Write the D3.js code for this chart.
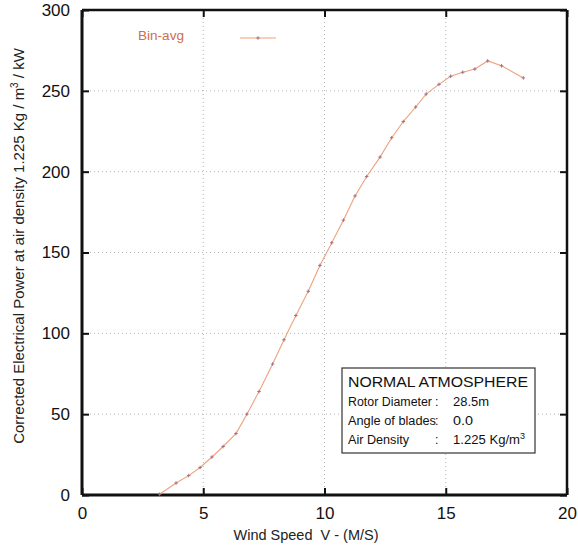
<!DOCTYPE html>
<html><head><meta charset="utf-8">
<script src="https://cdn.jsdelivr.net/npm/d3@7"></script>
<style>body{margin:0;background:#fff;}svg{display:block;font-family:"Liberation Sans",Arial,sans-serif;}</style>
</head><body><svg id="c" width="578" height="546"></svg>
<script>
const windSpeed = [3.2, 3.88, 4.4, 4.87, 5.36, 5.82, 6.35, 6.8, 7.3, 7.86, 8.33, 8.82, 9.33, 9.81, 10.3, 10.78, 11.26, 11.74, 12.29, 12.77, 13.25, 13.76, 14.19, 14.72, 15.2, 15.7, 16.2, 16.73, 17.3, 18.2];
const power = [0.5, 7.4, 12, 17, 23.5, 30, 38, 50, 64, 81, 96, 111, 126, 142, 156, 170, 185, 197, 209, 221, 231, 240, 248, 254, 259, 261.5, 263.5, 268.5, 265.5, 258];
const xTicks = [0, 5, 10, 15, 20];
const yTicks = [0, 50, 100, 150, 200, 250, 300];
const legendLabel = "Bin-avg";
const boxTitle = "NORMAL ATMOSPHERE";
const boxRows = [["Rotor Diameter", "28.5m", ""], ["Angle of blades", "0.0", ""], ["Air Density", "1.225 Kg/m", "3"]];

const svg = d3.select("#c");
const L = 82, R = 567, T = 10, B = 495;
const x = d3.scaleLinear().domain([0, 20]).range([L, R]);
const y = d3.scaleLinear().domain([0, 300]).range([B, T]);
const data = windSpeed.map((v, i) => ({v, p: power[i]}));

// grid
const g = svg.append("g");
g.selectAll("line.vg").data(xTicks.slice(1, -1)).join("line")
  .attr("x1", d => x(d)).attr("x2", d => x(d)).attr("y1", T).attr("y2", B)
  .attr("stroke", "#b5b5b5").attr("stroke-width", 1).attr("stroke-dasharray", "1,3");
g.selectAll("line.hg").data(yTicks.slice(1, -1)).join("line")
  .attr("y1", d => y(d)).attr("y2", d => y(d)).attr("x1", L).attr("x2", R)
  .attr("stroke", "#b5b5b5").attr("stroke-width", 1).attr("stroke-dasharray", "1,3");

// axes
const fmt = d3.format("d");
const axB = svg.append("g").attr("transform", `translate(0,${B})`)
  .call(d3.axisBottom(x).tickValues(xTicks).tickFormat(fmt).tickSizeInner(-7).tickSizeOuter(0).tickPadding(12));
const axL = svg.append("g").attr("transform", `translate(${L},0)`)
  .call(d3.axisLeft(y).tickValues(yTicks).tickFormat(fmt).tickSizeInner(-7).tickSizeOuter(0).tickPadding(12));
const axT = svg.append("g").attr("transform", `translate(0,${T})`)
  .call(d3.axisTop(x).tickValues(xTicks).tickFormat("").tickSizeInner(-7).tickSizeOuter(0));
const axR = svg.append("g").attr("transform", `translate(${R},0)`)
  .call(d3.axisRight(y).tickValues(yTicks).tickFormat("").tickSizeInner(-7).tickSizeOuter(0));
[axB, axL, axT, axR].forEach(a => {
  a.select(".domain").remove();
  a.selectAll(".tick line").attr("stroke", "#111").attr("stroke-width", 2);
  a.selectAll(".tick text").attr("fill", "#111").attr("font-size", 17).attr("font-family", "Liberation Sans, Arial, sans-serif");
});
axB.selectAll(".tick text").attr("dy", "0.71em");

// frame
svg.append("line").attr("x1", L).attr("x2", R).attr("y1", T).attr("y2", T).attr("stroke", "#111").attr("stroke-width", 2.5);
svg.append("line").attr("x1", R).attr("x2", R).attr("y1", T).attr("y2", B).attr("stroke", "#111").attr("stroke-width", 2.5);
svg.append("line").attr("x1", L).attr("x2", R).attr("y1", B).attr("y2", B).attr("stroke", "#111").attr("stroke-width", 3);
svg.append("line").attr("x1", L).attr("x2", L).attr("y1", T).attr("y2", B).attr("stroke", "#111").attr("stroke-width", 3);

// series
const lineCol = "#eea27c", markCol = "#a06a80";
svg.append("path").datum(data)
  .attr("d", d3.line().x(d => x(d.v)).y(d => y(d.p)))
  .attr("fill", "none").attr("stroke", lineCol).attr("stroke-width", 1.1);
const mk = svg.append("g").selectAll("g").data(data).join("g")
  .attr("transform", d => `translate(${x(d.v)},${y(d.p)})`);
mk.append("line").attr("x1", -1.8).attr("x2", 1.8).attr("stroke", markCol).attr("stroke-width", 0.9);
mk.append("line").attr("y1", -1.8).attr("y2", 1.8).attr("stroke", markCol).attr("stroke-width", 0.9);

// legend
svg.append("text").attr("x", 138).attr("y", 40).attr("font-size", 12.5).attr("fill", "#cf6e4e")
  .attr("textLength", 46).attr("lengthAdjust", "spacingAndGlyphs").text(legendLabel);
svg.append("line").attr("x1", 240).attr("x2", 276).attr("y1", 38).attr("y2", 38).attr("stroke", lineCol).attr("stroke-width", 1.1);
const lm = svg.append("g").attr("transform", "translate(258,38)");
lm.append("line").attr("x1", -1.8).attr("x2", 1.8).attr("stroke", markCol).attr("stroke-width", 0.9);
lm.append("line").attr("y1", -1.8).attr("y2", 1.8).attr("stroke", markCol).attr("stroke-width", 0.9);

// axis titles
svg.append("text").attr("x", 306).attr("y", 540).attr("text-anchor", "middle").attr("font-size", 14.5).attr("fill", "#222")
  .style("white-space", "pre").text("Wind Speed  V - (M/S)");
const yt = svg.append("text").attr("transform", "translate(24,246) rotate(-90)").attr("text-anchor", "middle").attr("font-size", 15).attr("fill", "#222");
yt.append("tspan").text("Corrected Electrical Power at air density 1.225 Kg / m");
yt.append("tspan").attr("dy", -6).attr("font-size", 10).text("3");
yt.append("tspan").attr("dy", 6).text(" / kW");

// info box
svg.append("rect").attr("x", 342).attr("y", 368).attr("width", 193).attr("height", 85)
  .attr("fill", "#fff").attr("stroke", "#333").attr("stroke-width", 1.2);
svg.append("text").attr("x", 348).attr("y", 387).attr("font-size", 15).attr("fill", "#111")
  .attr("textLength", 180).attr("lengthAdjust", "spacingAndGlyphs").text(boxTitle);
const labelW = [84, 88, 61];
const valW = [36, 20, 67];
boxRows.forEach((r, i) => {
  const yy = 406 + i * 19;
  svg.append("text").attr("x", 348).attr("y", yy).attr("font-size", 12.5).attr("fill", "#111")
    .attr("textLength", labelW[i]).attr("lengthAdjust", "spacingAndGlyphs").text(r[0]);
  svg.append("text").attr("x", 435).attr("y", yy).attr("font-size", 12.5).attr("fill", "#111").text(":");
  const t = svg.append("text").attr("x", 453).attr("y", yy).attr("font-size", 12.5).attr("fill", "#111");
  t.append("tspan").attr("textLength", valW[i]).attr("lengthAdjust", "spacingAndGlyphs").text(r[1]);
  if (r[2]) t.append("tspan").attr("dy", -5).attr("font-size", 9).text(r[2]);
});
</script></body></html>
